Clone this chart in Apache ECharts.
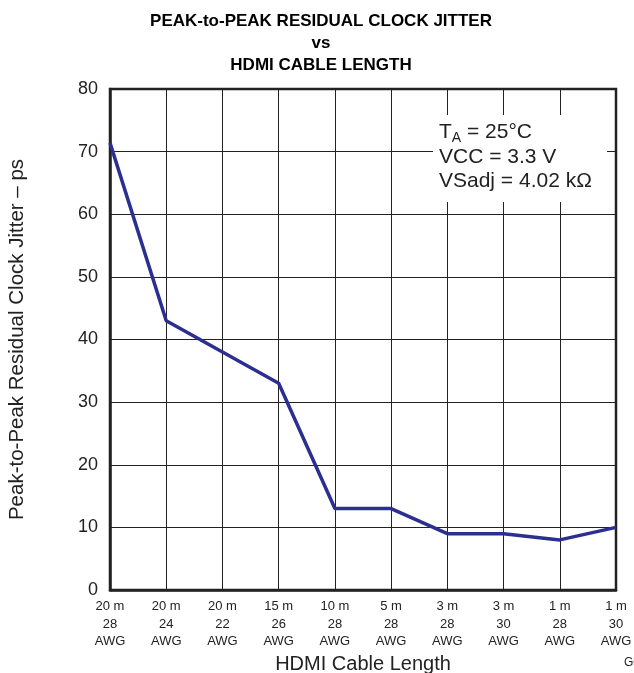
<!DOCTYPE html>
<html>
<head>
<meta charset="utf-8">
<script src="https://cdn.jsdelivr.net/npm/echarts@6/dist/echarts.min.js"></script>
<style>
  html, body { margin: 0; padding: 0; background: #fff; }
  #chart { width: 634px; height: 673px; }
</style>
</head>
<body>
<div id="chart"></div>
<script>
// 电缆长度 / 线规 (x 轴三行标签)
var cableLengths = ['20 m', '20 m', '20 m', '15 m', '10 m', '5 m', '3 m', '3 m', '1 m', '1 m'];
var cableGauges = ['28', '24', '22', '26', '28', '28', '28', '30', '28', '30'];
// 峰峰值残余时钟抖动 ps
var jitterPs = [71.4, 43, 38, 33, 13, 13, 9, 9, 8, 10];
var yTicks = [0, 10, 20, 30, 40, 50, 60, 70, 80];

var categories = cableLengths.map(function (len, i) {
    return len + '\n' + cableGauges[i] + '\nAWG';
});

var font = 'Liberation Sans, Arial, sans-serif';
var myChart = echarts.init(document.getElementById('chart'));

var option = {
    backgroundColor: '#fff',
    animation: false,
    title: {
        text: 'PEAK-to-PEAK RESIDUAL CLOCK JITTER\nvs\nHDMI CABLE LENGTH',
        left: 321,
        top: 11,
        padding: 0,
        textAlign: 'center',
        textStyle: {
            fontFamily: font,
            fontWeight: 'bold',
            fontSize: 17,
            lineHeight: 21.6,
            color: '#000'
        }
    },
    grid: {
        left: 110,
        right: 18,
        top: 89,
        bottom: 83,
        outerBoundsMode: 'none',
        show: true,
        borderColor: '#222',
        borderWidth: 2.5
    },
    xAxis: {
        type: 'category',
        data: categories,
        boundaryGap: false,
        name: 'HDMI Cable Length',
        nameLocation: 'middle',
        nameGap: 64,
        nameTextStyle: { fontFamily: font, fontSize: 20, color: '#222' },
        axisLine: { lineStyle: { color: '#222', width: 2.5 } },
        axisTick: { show: false },
        axisLabel: {
            interval: 0,
            margin: 8,
            fontFamily: font,
            fontSize: 13,
            lineHeight: 17.3,
            color: '#222'
        },
        splitLine: { show: true, lineStyle: { color: '#222', width: 1 } }
    },
    yAxis: {
        type: 'value',
        min: yTicks[0],
        max: yTicks[yTicks.length - 1],
        interval: 10,
        name: 'Peak-to-Peak Residual Clock Jitter – ps',
        nameLocation: 'middle',
        nameGap: 82,
        nameRotate: 90,
        nameTextStyle: { fontFamily: font, fontSize: 20.5, color: '#222' },
        axisLine: { show: true, lineStyle: { color: '#222', width: 2.5 } },
        axisTick: { show: false },
        axisLabel: {
            margin: 12,
            fontFamily: font,
            fontSize: 18,
            color: '#222'
        },
        splitLine: { show: true, lineStyle: { color: '#222', width: 1 } }
    },
    graphic: [
        {
            type: 'rect',
            shape: { x: 433, y: 115, width: 174, height: 87 },
            style: { fill: '#fff' },
            z: 10
        },
        {
            type: 'text',
            left: 439,
            top: 120,
            z: 11,
            style: {
                text: '{n|T}{s|A}{n| = 25°C}\n{n|VCC = 3.3 V}\n{n|VSadj = 4.02 kΩ}',
                rich: {
                    n: { fontFamily: font, fontSize: 21, lineHeight: 24.5, fill: '#222' },
                    s: { fontFamily: font, fontSize: 14, lineHeight: 24.5, fill: '#222', padding: [11, 0, 0, 0] }
                }
            }
        },
        {
            type: 'text',
            left: 624,
            top: 657,
            style: { text: 'G001', fontFamily: font, fontSize: 12, fill: '#222' }
        }
    ],
    series: [{
        type: 'line',
        data: jitterPs,
        symbol: 'none',
        lineStyle: { color: '#2B2F8F', width: 3.5 },
        z: 5
    }]
};
myChart.setOption(option);
</script>
</body>
</html>
